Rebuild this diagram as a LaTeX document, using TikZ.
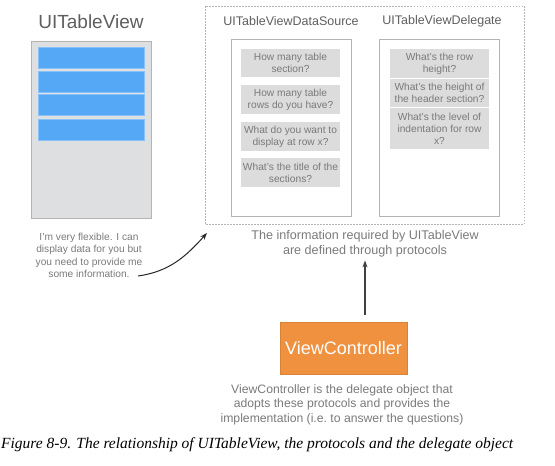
\documentclass[tikz,border=0pt]{standalone}
\usepackage{fontspec}
\setmainfont{Liberation Sans}
\newfontfamily\capfont{Liberation Serif}
\usetikzlibrary{positioning, arrows.meta}
\definecolor{txtgray}{HTML}{7A7A7A}
\definecolor{titlegray}{HTML}{5E5E5E}
\definecolor{qgray}{HTML}{DCDCDC}
\definecolor{tvgray}{HTML}{DEDFE1}
\definecolor{framegray}{HTML}{B4B4B4}
\definecolor{cellblue}{HTML}{55A8F5}
\definecolor{vcorange}{HTML}{EF913F}
\tikzset{
  title/.style={text=titlegray, font=\fontsize{12.5}{15}\selectfont},
  panel/.style={draw=framegray, fill=white, line width=0.8pt},
  question/.style={fill=qgray, text=txtgray, inner sep=0pt,
    minimum width=99pt, align=center, font=\fontsize{10.2}{12}\selectfont},
  cell/.style={fill=cellblue, draw=cellblue!70!white, minimum width=106pt,
    minimum height=21pt, inner sep=0pt},
  note/.style={text=txtgray, align=center},
}
\begin{document}
\begin{tikzpicture}[x=1pt, y=-1pt]
        \useasboundingbox (0,0) rectangle (555,466);
        % Table view
        \node[text=titlegray, font=\fontsize{19}{22}\selectfont] (tvtitle) at (91,22) {UITableView};
        \draw[draw=framegray, fill=tvgray, line width=0.8pt] (31,41) rectangle (151,218);
        \node[cell] (row1) at (91,57.5) {};
        \node[cell] (row2) at (91,81.5) {};
        \node[cell] (row3) at (91,105) {};
        \node[cell] (row4) at (91,129.5) {};
        \node[note, font=\fontsize{10.2}{12.3}\selectfont] (flexible) at (89,255.5)
          {I'm very flexible. I can\\display data for you but\\you need to provide me\\some information.};
        % Protocols
        \draw[framegray, dash pattern=on 1.5pt off 1.5pt, line width=0.6pt] (205,6) rectangle (524,224);
        \coordinate (protocols) at (207,233);
        \coordinate (flexend) at (138,276);
        \draw[-{Stealth[length=7pt, width=5pt]}, line width=1pt, black!85] (flexend) to[out=8, in=228] (protocols);
        % Data source
        \node[title] (dstitle) at (291,21) {UITableViewDataSource};
        \draw[panel] (231,39) rectangle (351,216);
        \node[question, minimum height=28pt] (ds1) at (290.5,63) {How many table\\section?};
        \node[question, minimum height=29pt] (ds2) at (290.5,99.5) {How many table\\rows do you have?};
        \node[question, minimum height=29pt] (ds3) at (290.5,136.5) {What do you want to\\display at row x?};
        \node[question, minimum height=29pt] (ds4) at (290.5,172.5) {What's the title of the\\sections?};
        % Delegate
        \node[title] (dgtitle) at (442,21) {UITableViewDelegate};
        \draw[panel] (379,39) rectangle (499,216);
        \node[question, minimum height=29pt] (dg1) at (439.5,63.5) {What's the row\\height?};
        \node[question, minimum height=28pt] (dg2) at (439.5,93) {What's the height of\\the header section?};
        \node[question, minimum height=41pt] (dg3) at (439.5,128.5) {What's the level of\\indentation for row\\x?};
        \node[note, font=\fontsize{12.6}{15}\selectfont] (info) at (365,243.5)
          {The information required by UITableView\\are defined through protocols};
        % View controller
        \node[fill=vcorange, draw=vcorange!90!black, line width=0.5pt, text=white, minimum width=127pt,
          minimum height=52pt, font=\fontsize{18}{20}\selectfont] (vc) at (343.5,348) {ViewController};
        \coordinate (vcarrow) at (365,315);
        \draw[-{Stealth[length=7pt, width=5pt]}, line width=1.1pt, black!75] (vcarrow) -- (info.south);
        \node[note, font=\fontsize{12.2}{14.5}\selectfont] (adopts) at (342,404.5)
          {ViewController is the delegate object that\\adopts these protocols and provides the\\implementation (i.e.\ to answer the questions)};
        % Caption
        \node[font=\capfont\itshape\fontsize{15.5}{17}\selectfont, anchor=west, inner sep=1pt] (caption) at (0,445)
          {Figure 8-9. The relationship of UITableView, the protocols and the delegate object};
\end{tikzpicture}
\end{document}
